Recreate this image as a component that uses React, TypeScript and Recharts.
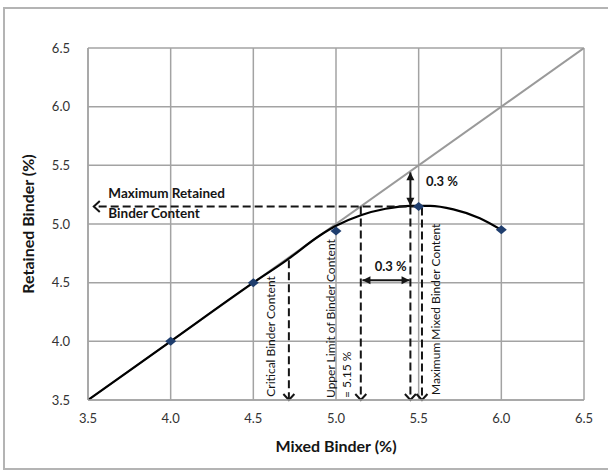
import React from 'react';
import {
  ComposedChart,
  Line,
  Scatter,
  XAxis,
  YAxis,
  CartesianGrid,
  ReferenceLine,
  ReferenceDot,
  Label,
} from 'recharts';

// ---- data ----
const axisTicks = [3.5, 4.0, 4.5, 5.0, 5.5, 6.0, 6.5];

// measured points
const mixedBinder = [4.0, 4.5, 5.0, 5.5, 6.0];
const retainedBinder = [4.0, 4.5, 4.94, 5.15, 4.95];

// fitted trend curve
const trendMixed = [3.5, 4.0, 4.5, 4.7, 4.9, 5.0, 5.15, 5.3, 5.45, 5.57, 5.71, 5.87, 6.0];
const trendRetained = [3.5, 4.0, 4.5, 4.69, 4.9, 4.985, 5.075, 5.13, 5.155, 5.155, 5.125, 5.05, 4.95];

// line of equality (retained = mixed)
const equalityEnds = [3.5, 6.5];

// key binder contents
const maxRetainedBinder = 5.15;
const upperLimitBinder = 5.15;
const allowance = 0.3;
const criticalBinder = 4.715;
const criticalRetained = 4.69;
const maxMixedBinder = 5.52;
const maxMixedRetained = 5.14;

const FONT = 'Lato, "DejaVu Sans", sans-serif';
const INK = '#151515';

const pointData = mixedBinder.map((x, i) => ({ x, y: retainedBinder[i] }));
const trendData = trendMixed.map((x, i) => ({ x, y: trendRetained[i] }));
const equalityData = equalityEnds.map((v) => ({ x: v, y: v }));
const offsetBinder = upperLimitBinder + allowance;

// ---- shapes ----
function head(x1: number, y1: number, x2: number, y2: number, len: number, half: number) {
  const dx = x2 - x1;
  const dy = y2 - y1;
  const d = Math.hypot(dx, dy) || 1;
  const ux = dx / d;
  const uy = dy / d;
  const bx = x2 - ux * len;
  const by = y2 - uy * len;
  return {
    a: [bx - uy * half, by + ux * half],
    b: [bx + uy * half, by - ux * half],
    tip: [x2, y2],
  };
}

const DashedArrow = (p: any) => {
  const { x1, y1, x2, y2 } = p;
  const h = head(x1, y1, x2, y2, 6, 5.5);
  return (
    <g>
      <line x1={x1} y1={y1} x2={x2} y2={y2} stroke={INK} strokeWidth={2} strokeDasharray="8 4" />
      <polyline
        points={`${h.a[0]},${h.a[1]} ${h.tip[0]},${h.tip[1]} ${h.b[0]},${h.b[1]}`}
        fill="none"
        stroke={INK}
        strokeWidth={2}
      />
    </g>
  );
};

const DoubleArrow = (p: any) => {
  const { x1, y1, x2, y2 } = p;
  const e = head(x1, y1, x2, y2, 8, 4);
  const s = head(x2, y2, x1, y1, 8, 4);
  return (
    <g>
      <line x1={x1} y1={y1} x2={x2} y2={y2} stroke={INK} strokeWidth={2} />
      <polygon points={`${e.a[0]},${e.a[1]} ${e.tip[0]},${e.tip[1]} ${e.b[0]},${e.b[1]}`} fill={INK} />
      <polygon points={`${s.a[0]},${s.a[1]} ${s.tip[0]},${s.tip[1]} ${s.b[0]},${s.b[1]}`} fill={INK} />
    </g>
  );
};

const Diamond = (p: any) => {
  const { cx, cy } = p;
  if (cx == null || cy == null) return null;
  return (
    <polygon
      points={`${cx - 5.5},${cy} ${cx},${cy - 4.5} ${cx + 5.5},${cy} ${cx},${cy + 4.5}`}
      fill="#1F3E6E"
    />
  );
};

const flatText = (text: string, size: number, bold: boolean, anchor: 'start' | 'middle') => (p: any) => (
  <text
    x={p.cx}
    y={p.cy}
    textAnchor={anchor}
    dominantBaseline="central"
    fontSize={size}
    fontWeight={bold ? 700 : 400}
    fontFamily={FONT}
    fill={INK}
  >
    {text}
  </text>
);

const upText = (text: string) => (p: any) => (
  <text
    x={p.cx}
    y={p.cy}
    transform={`rotate(-90 ${p.cx} ${p.cy})`}
    textAnchor="start"
    dominantBaseline="central"
    fontSize={12}
    fontFamily={FONT}
    fill={INK}
  >
    {text}
  </text>
);

export default function App() {
  return (
    <div
      style={{
        position: 'absolute',
        left: 0,
        top: 0,
        width: 608,
        height: 471,
        overflow: 'hidden',
        background: '#fff',
      }}
    >
      <div
        style={{
          position: 'absolute',
          left: 3,
          top: 7,
          width: 640,
          height: 459,
          border: '2px solid #b4b4b4',
        }}
      />
      <div style={{ position: 'absolute', left: 0, top: 0 }}>
        <ComposedChart width={608} height={471} margin={{ top: 48, right: 24, bottom: 41, left: 28 }}>
          <CartesianGrid stroke="#a3a3a3" strokeWidth={1.5} />
          <XAxis
            type="number"
            dataKey="x"
            domain={[3.5, 6.5]}
            ticks={axisTicks}
            tickFormatter={(v: number) => v.toFixed(1)}
            tick={{ fill: '#333', fontSize: 13, fontFamily: FONT }}
            tickLine={false}
            tickSize={0}
            tickMargin={14}
            axisLine={{ stroke: '#a3a3a3', strokeWidth: 1.5 }}
            height={30}
            allowDataOverflow
          >
            <Label
              content={(props: any) => {
                const vb = props.viewBox;
                return (
                  <text
                    x={vb.x + vb.width / 2}
                    y={vb.y + 45}
                    textAnchor="middle"
                    dominantBaseline="central"
                    fontSize={16}
                    fontWeight={700}
                    fontFamily={FONT}
                    fill={INK}
                  >
                    Mixed Binder (%)
                  </text>
                );
              }}
            />
          </XAxis>
          <YAxis
            type="number"
            dataKey="y"
            domain={[3.5, 6.5]}
            ticks={axisTicks}
            tickFormatter={(v: number) => v.toFixed(1)}
            tick={{ fill: '#333', fontSize: 13, fontFamily: FONT }}
            tickLine={false}
            tickSize={0}
            tickMargin={18}
            axisLine={{ stroke: '#a3a3a3', strokeWidth: 1.5 }}
            width={60}
            allowDataOverflow
          >
            <Label
              content={(props: any) => {
                const vb = props.viewBox;
                const cx = vb.x - 1;
                const cy = vb.y + vb.height / 2;
                return (
                  <text
                    x={cx}
                    y={cy}
                    transform={`rotate(-90 ${cx} ${cy})`}
                    textAnchor="middle"
                    dominantBaseline="central"
                    fontSize={16}
                    fontWeight={700}
                    fontFamily={FONT}
                    fill={INK}
                  >
                    Retained Binder (%)
                  </text>
                );
              }}
            />
          </YAxis>

          <Line
            data={equalityData}
            dataKey="y"
            type="linear"
            stroke="#9a9a9a"
            strokeWidth={2}
            dot={false}
            activeDot={false}
            isAnimationActive={false}
          />
          <Scatter data={pointData} dataKey="y" shape={Diamond} isAnimationActive={false} />
          <Line
            data={trendData}
            dataKey="y"
            type="monotone"
            stroke="#000"
            strokeWidth={2.2}
            dot={false}
            activeDot={false}
            isAnimationActive={false}
          />

          {/* maximum retained binder content, pointing to the axis */}
          <ReferenceLine
            segment={[
              { x: maxMixedBinder - 0.02, y: maxRetainedBinder },
              { x: 3.535, y: maxRetainedBinder },
            ]}
            shape={DashedArrow}
          />
          {/* drop lines to the mixed binder axis */}
          <ReferenceLine
            segment={[
              { x: criticalBinder, y: criticalRetained },
              { x: criticalBinder, y: 3.5 },
            ]}
            shape={DashedArrow}
          />
          <ReferenceLine
            segment={[
              { x: upperLimitBinder, y: maxRetainedBinder },
              { x: upperLimitBinder, y: 3.5 },
            ]}
            shape={DashedArrow}
          />
          <ReferenceLine
            segment={[
              { x: offsetBinder, y: maxRetainedBinder },
              { x: offsetBinder, y: 3.5 },
            ]}
            shape={DashedArrow}
          />
          <ReferenceLine
            segment={[
              { x: maxMixedBinder, y: maxMixedRetained },
              { x: maxMixedBinder, y: 3.5 },
            ]}
            shape={DashedArrow}
          />
          {/* 0.3 % allowances */}
          <ReferenceLine
            segment={[
              { x: offsetBinder, y: offsetBinder - 0.01 },
              { x: offsetBinder, y: maxRetainedBinder + 0.005 },
            ]}
            shape={DoubleArrow}
          />
          <ReferenceLine
            segment={[
              { x: upperLimitBinder + 0.01, y: 4.52 },
              { x: offsetBinder - 0.005, y: 4.52 },
            ]}
            shape={DoubleArrow}
          />

          {/* annotations */}
          <ReferenceDot x={3.623} y={5.267} r={1} shape={flatText('Maximum Retained', 13.5, true, 'start')} />
          <ReferenceDot x={3.623} y={5.096} r={1} shape={flatText('Binder Content', 13.5, true, 'start')} />
          <ReferenceDot x={5.544} y={5.369} r={1} shape={flatText('0.3 %', 13, true, 'start')} />
          <ReferenceDot x={5.331} y={4.642} r={1} shape={flatText('0.3 %', 13, true, 'middle')} />
          <ReferenceDot x={4.601} y={3.528} r={1} shape={upText('Critical Binder Content')} />
          <ReferenceDot x={4.964} y={3.517} r={1} shape={upText('Upper Limit of Binder Content')} />
          <ReferenceDot x={5.065} y={3.517} r={1} shape={upText('= 5.15 %')} />
          <ReferenceDot x={5.599} y={3.543} r={1} shape={upText('Maximum Mixed Binder Content')} />
        </ComposedChart>
      </div>
    </div>
  );
}
